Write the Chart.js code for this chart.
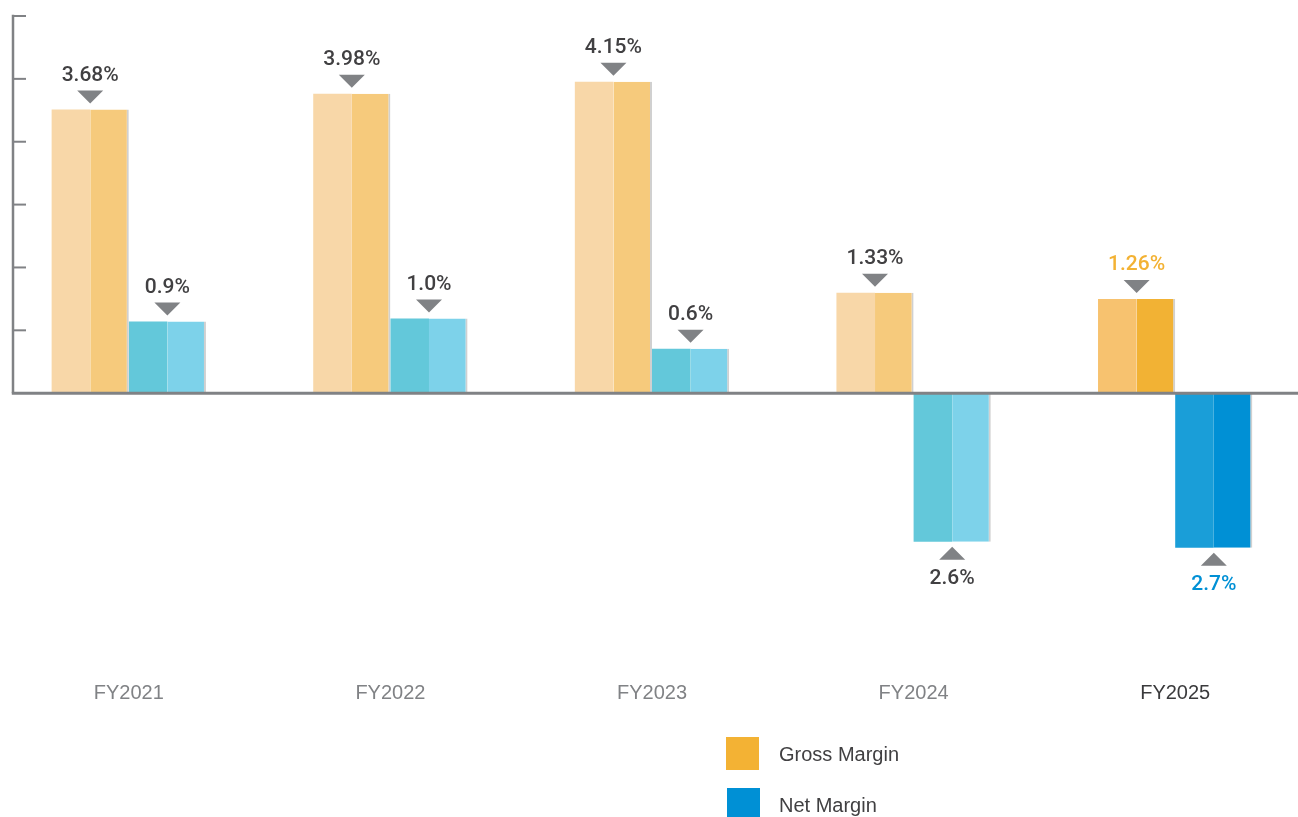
<!DOCTYPE html>
<html>
<head>
<meta charset="utf-8">
<script src="https://cdn.jsdelivr.net/npm/chart.js@4.4.1/dist/chart.umd.min.js"></script>
<style>
  html, body { margin: 0; padding: 0; background: #ffffff; overflow: hidden; width: 1298px; height: 817px; }
  #wrap { position: absolute; left: -2px; top: 0; width: 1308px; height: 817px; }
  .legend { position: absolute; left: 726px; font-family: 'Liberation Sans', Arial, sans-serif; font-size: 20px; color: #414042; }
  .legend .row { position: absolute; left: 0; white-space: nowrap; }
  .legend .sw { position: absolute; left: 0; top: 0; width: 33px; height: 33px; }
  .legend .tx { position: absolute; left: 53px; top: 5px; line-height: 24px; }
</style>
</head>
<body>
<div id="wrap"><canvas id="c"></canvas></div>
<div class="legend" style="top:737px;">
  <div class="row" style="top:0;"><div class="sw" style="background:#F3B234;"></div><div class="tx">Gross Margin</div></div>
  <div class="row" style="top:51px;left:1px;"><div class="sw" style="background:#0090D5;"></div><div class="tx" style="left:52px;">Net Margin</div></div>
</div>
<script>
// ---- data ----
const categories = ['FY2021', 'FY2022', 'FY2023', 'FY2024', 'FY2025'];
// labelled margins (%)
const grossMarginLabels = ['3.68%', '3.98%', '4.15%', '1.33%', '1.26%'];
const netMarginLabels = ['0.9%', '1.0%', '0.6%', '2.6%', '2.7%'];
// bar heights as drawn in the picture (axis units, 0..5 axis)
const grossMargin = [3.76, 3.97, 4.13, 1.33, 1.25];
const netMargin = [0.95, 0.99, 0.59, -1.97, -2.05];
// unlabelled y-axis tick marks
const yTicks = [0, 0.8333, 1.6667, 2.5, 3.3333, 4.1667, 5];

// ---- styles ----
const grossLeft = ['#F8D7A8', '#F8D7A8', '#F8D7A8', '#F8D7A8', '#F7C26F'];
const grossRight = ['#F6CA7C', '#F6CA7C', '#F6CA7C', '#F6CA7C', '#F2B234'];
const netLeft = ['#63C8DA', '#63C8DA', '#63C8DA', '#63C8DA', '#1A9ED8'];
const netRight = ['#7DD2EA', '#7DD2EA', '#7DD2EA', '#7DD2EA', '#0090D5'];
const grossLabelColor = ['#414042', '#414042', '#414042', '#414042', '#F3B234'];
const netLabelColor = ['#414042', '#414042', '#414042', '#414042', '#0090D5'];
const axisGrey = '#808285';

Chart.defaults.font.family = "'Liberation Sans', Arial, sans-serif";

const edge = { top: 0, right: 2, bottom: 0, left: 0 };

const overlay = {
  id: 'overlay',
  afterDatasetsDraw(chart) {
    const ctx = chart.ctx;
    const y = chart.scales.y;
    const area = chart.chartArea;
    const zero = y.getPixelForValue(0);
    const axisX = area.left + 15;
    ctx.save();
    ctx.strokeStyle = axisGrey;
    // vertical axis
    ctx.lineWidth = 2.5;
    ctx.beginPath();
    ctx.moveTo(axisX, y.getPixelForValue(5) - 1.2);
    ctx.lineTo(axisX, zero);
    ctx.stroke();
    // tick marks
    ctx.lineWidth = 2;
    yTicks.forEach(v => {
      if (v === 0) return;
      const py = y.getPixelForValue(v);
      ctx.beginPath();
      ctx.moveTo(axisX, py);
      ctx.lineTo(axisX + 13, py);
      ctx.stroke();
    });
    // zero line
    ctx.lineWidth = 3;
    ctx.beginPath();
    ctx.moveTo(axisX - 1.2, zero);
    ctx.lineTo(area.right, zero);
    ctx.stroke();

    // arrows + labels
    const drawLabel = (bar, text, color) => {
      const cx = bar.x + bar.width / 2;
      const up = bar.y > bar.base; // negative bar
      ctx.fillStyle = axisGrey;
      ctx.beginPath();
      if (!up) {
        ctx.moveTo(cx - 13, bar.y - 19);
        ctx.lineTo(cx + 13, bar.y - 19);
        ctx.lineTo(cx, bar.y - 6);
      } else {
        ctx.moveTo(cx - 13, bar.y + 18);
        ctx.lineTo(cx + 13, bar.y + 18);
        ctx.lineTo(cx, bar.y + 5);
      }
      ctx.closePath();
      ctx.fill();
      ctx.fillStyle = color;
      ctx.font = "500 21px Roboto, 'Liberation Sans', sans-serif";
      ctx.textAlign = 'center';
      ctx.textBaseline = 'alphabetic';
      ctx.fillText(text, cx, up ? bar.y + 42 : bar.y - 29);
    };
    const gMeta = chart.getDatasetMeta(0).data;
    const nMeta = chart.getDatasetMeta(2).data;
    categories.forEach((c, i) => {
      drawLabel(gMeta[i], grossMarginLabels[i], grossLabelColor[i]);
      drawLabel(nMeta[i], netMarginLabels[i], netLabelColor[i]);
    });
    ctx.restore();
  }
};

new Chart(document.getElementById('c'), {
  type: 'bar',
  data: {
    labels: categories,
    datasets: [
      { label: 'Gross Margin', data: grossMargin, backgroundColor: grossLeft, borderWidth: 0 },
      { label: 'Gross Margin ', data: grossMargin, backgroundColor: grossRight, borderColor: '#D0D0D0', borderWidth: edge, borderSkipped: false },
      { label: 'Net Margin', data: netMargin, backgroundColor: netLeft, borderWidth: 0 },
      { label: 'Net Margin ', data: netMargin, backgroundColor: netRight, borderColor: '#D0D0D0', borderWidth: edge, borderSkipped: false }
    ]
  },
  options: {
    responsive: true,
    maintainAspectRatio: false,
    animation: false,
    datasets: { bar: { barPercentage: 1, categoryPercentage: 0.59, inflateAmount: 0 } },
    layout: { padding: { top: 16, bottom: 95, left: 0, right: 0 } },
    plugins: { legend: { display: false }, tooltip: { enabled: false } },
    scales: {
      x: {
        grid: { display: false, drawTicks: false },
        border: { display: false },
        ticks: {
          padding: 17,
          font: { size: 20 },
          color: ctx => (ctx.index === 4 ? '#3A3A3C' : '#808285')
        }
      },
      y: { display: false, min: -3.59, max: 5 }
    }
  },
  plugins: [overlay]
});
</script>
</body>
</html>
